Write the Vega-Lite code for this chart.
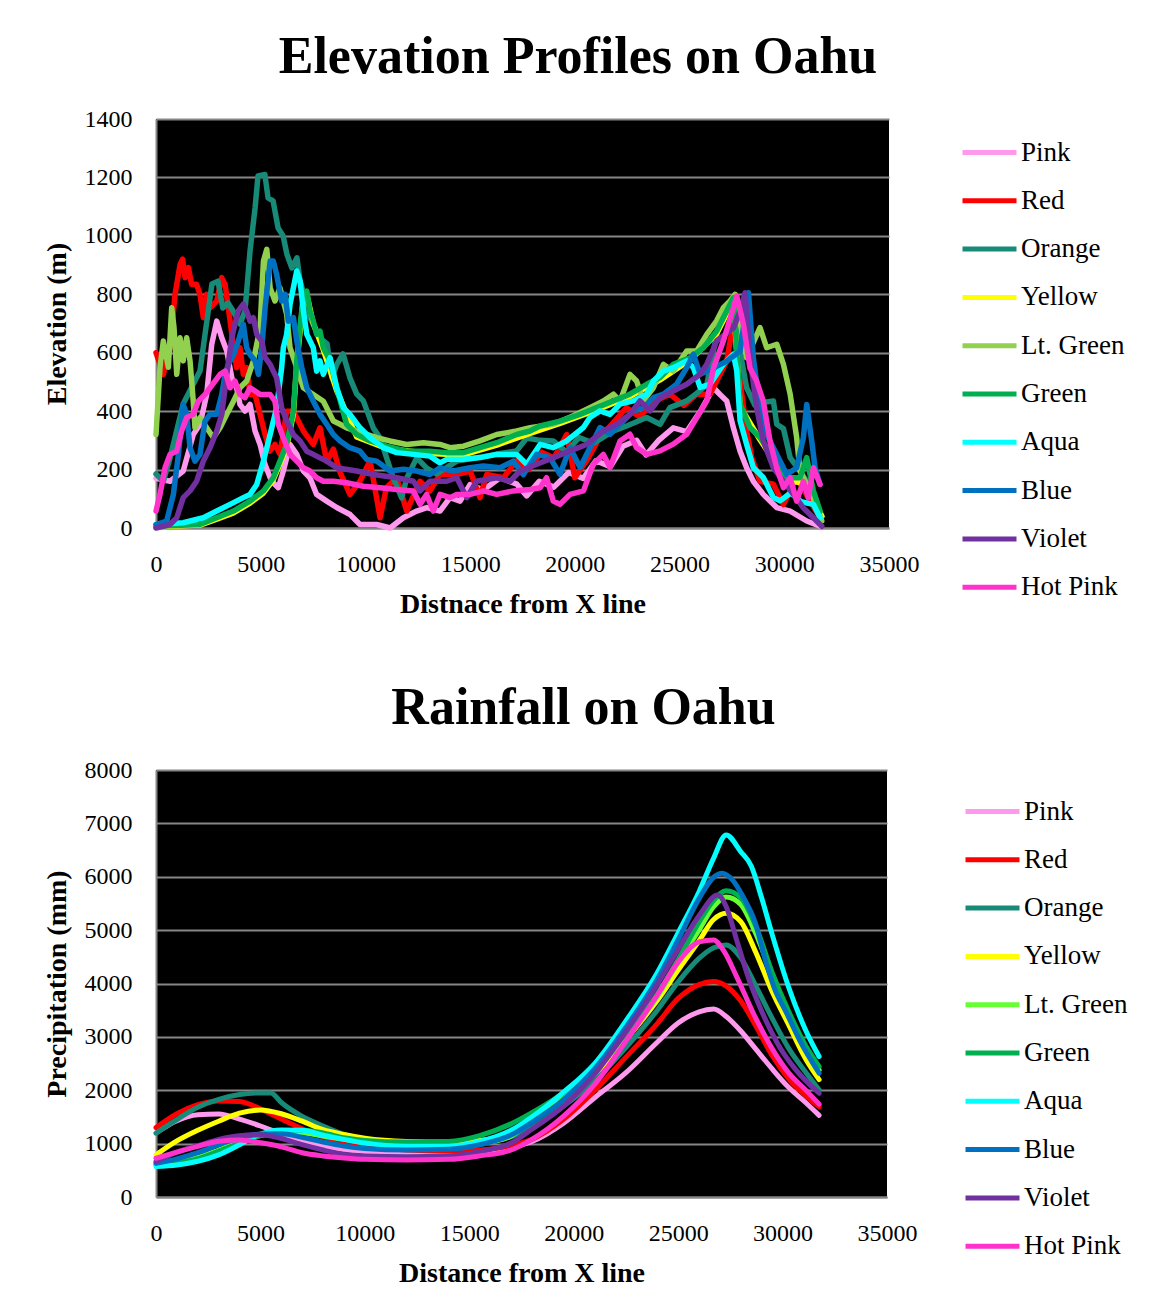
{
"$schema": "https://vega.github.io/schema/vega-lite/v6.json",
"background": "white",
"padding": {"left": 43, "top": 31, "right": 5, "bottom": 5},
"config": {
  "font": "Liberation Serif",
  "view": {"fill": "black", "stroke": null},
  "axis": {"labelFont": "Liberation Serif", "labelFontSize": 24, "labelColor": "black", "labelFlush": false, "titleFont": "Liberation Serif", "titleFontSize": 28, "titleFontWeight": "bold", "titleColor": "black", "domainColor": "#868686", "domainWidth": 2, "gridColor": "#868686", "gridWidth": 2, "gridOpacity": 1, "ticks": false},
  "axisX": {"grid": false},
  "legend": {"labelFont": "Liberation Serif", "labelFontSize": 27, "labelColor": "black", "symbolType": "stroke", "symbolSize": 2916, "symbolStrokeWidth": 5, "rowPadding": 5.3, "labelOffset": 2, "orient": "right"},
  "title": {"font": "Liberation Serif", "fontSize": 52, "fontWeight": "bold", "color": "black", "anchor": "middle", "frame": "bounds"}
},
"spacing": 64,
"resolve": {"scale": {"color": "independent"}, "legend": {"color": "independent"}},
"datasets": {
"elev": [
{"s":"Pink","x":0,"y":170},{"s":"Pink","x":670,"y":160},{"s":"Pink","x":1300,"y":195},{"s":"Pink","x":1780,"y":320},{"s":"Pink","x":2100,"y":355},{"s":"Pink","x":2420,"y":457},{"s":"Pink","x":2660,"y":628},{"s":"Pink","x":2900,"y":708},{"s":"Pink","x":3140,"y":651},{"s":"Pink","x":3380,"y":606},{"s":"Pink","x":3620,"y":514},{"s":"Pink","x":3850,"y":480},{"s":"Pink","x":4010,"y":423},{"s":"Pink","x":4250,"y":400},{"s":"Pink","x":4490,"y":423},{"s":"Pink","x":4730,"y":332},{"s":"Pink","x":4970,"y":286},{"s":"Pink","x":5200,"y":218},{"s":"Pink","x":5520,"y":160},{"s":"Pink","x":5840,"y":138},{"s":"Pink","x":6080,"y":195},{"s":"Pink","x":6400,"y":286},{"s":"Pink","x":6720,"y":252},{"s":"Pink","x":7040,"y":195},{"s":"Pink","x":7350,"y":172},{"s":"Pink","x":7670,"y":115},{"s":"Pink","x":8150,"y":92},{"s":"Pink","x":8630,"y":70},{"s":"Pink","x":9270,"y":46},{"s":"Pink","x":9740,"y":12},{"s":"Pink","x":10540,"y":12},{"s":"Pink","x":11180,"y":0},{"s":"Pink","x":11810,"y":35},{"s":"Pink","x":12450,"y":58},{"s":"Pink","x":12930,"y":70},{"s":"Pink","x":13560,"y":58},{"s":"Pink","x":14040,"y":104},{"s":"Pink","x":14520,"y":92},{"s":"Pink","x":15000,"y":149},{"s":"Pink","x":15630,"y":130},{"s":"Pink","x":16430,"y":172},{"s":"Pink","x":17230,"y":150},{"s":"Pink","x":17700,"y":110},{"s":"Pink","x":18300,"y":160},{"s":"Pink","x":19000,"y":140},{"s":"Pink","x":19700,"y":190},{"s":"Pink","x":20400,"y":170},{"s":"Pink","x":21000,"y":230},{"s":"Pink","x":21700,"y":210},{"s":"Pink","x":22300,"y":280},{"s":"Pink","x":22950,"y":300},{"s":"Pink","x":23400,"y":250},{"s":"Pink","x":24000,"y":300},{"s":"Pink","x":24700,"y":343},{"s":"Pink","x":25340,"y":330},{"s":"Pink","x":26000,"y":400},{"s":"Pink","x":26620,"y":480},{"s":"Pink","x":26930,"y":457},{"s":"Pink","x":27250,"y":435},{"s":"Pink","x":27570,"y":343},{"s":"Pink","x":27890,"y":263},{"s":"Pink","x":28200,"y":206},{"s":"Pink","x":28520,"y":160},{"s":"Pink","x":29000,"y":115},{"s":"Pink","x":29640,"y":70},{"s":"Pink","x":30280,"y":58},{"s":"Pink","x":31070,"y":24},{"s":"Pink","x":31710,"y":6},
{"s":"Red","x":0,"y":600},{"s":"Red","x":350,"y":526},{"s":"Red","x":670,"y":617},{"s":"Red","x":910,"y":800},{"s":"Red","x":1150,"y":902},{"s":"Red","x":1270,"y":920},{"s":"Red","x":1390,"y":857},{"s":"Red","x":1550,"y":891},{"s":"Red","x":1700,"y":834},{"s":"Red","x":1940,"y":834},{"s":"Red","x":2100,"y":800},{"s":"Red","x":2260,"y":720},{"s":"Red","x":2420,"y":800},{"s":"Red","x":2580,"y":754},{"s":"Red","x":2900,"y":777},{"s":"Red","x":3140,"y":857},{"s":"Red","x":3300,"y":834},{"s":"Red","x":3540,"y":708},{"s":"Red","x":3700,"y":617},{"s":"Red","x":3850,"y":549},{"s":"Red","x":4010,"y":617},{"s":"Red","x":4170,"y":526},{"s":"Red","x":4330,"y":549},{"s":"Red","x":4490,"y":457},{"s":"Red","x":4730,"y":457},{"s":"Red","x":4970,"y":389},{"s":"Red","x":5210,"y":320},{"s":"Red","x":5440,"y":263},{"s":"Red","x":5680,"y":286},{"s":"Red","x":5920,"y":252},{"s":"Red","x":6240,"y":400},{"s":"Red","x":6560,"y":400},{"s":"Red","x":7040,"y":332},{"s":"Red","x":7510,"y":286},{"s":"Red","x":7830,"y":343},{"s":"Red","x":8150,"y":229},{"s":"Red","x":8470,"y":270},{"s":"Red","x":8790,"y":190},{"s":"Red","x":9260,"y":115},{"s":"Red","x":9740,"y":160},{"s":"Red","x":10220,"y":230},{"s":"Red","x":10700,"y":35},{"s":"Red","x":11000,"y":138},{"s":"Red","x":11490,"y":172},{"s":"Red","x":11970,"y":58},{"s":"Red","x":12600,"y":160},{"s":"Red","x":13080,"y":127},{"s":"Red","x":13560,"y":183},{"s":"Red","x":14360,"y":183},{"s":"Red","x":15000,"y":195},{"s":"Red","x":15470,"y":104},{"s":"Red","x":15790,"y":183},{"s":"Red","x":16590,"y":172},{"s":"Red","x":17220,"y":230},{"s":"Red","x":17800,"y":200},{"s":"Red","x":18400,"y":260},{"s":"Red","x":19000,"y":240},{"s":"Red","x":19610,"y":320},{"s":"Red","x":20000,"y":172},{"s":"Red","x":20560,"y":230},{"s":"Red","x":21100,"y":300},{"s":"Red","x":21700,"y":350},{"s":"Red","x":22470,"y":412},{"s":"Red","x":23100,"y":380},{"s":"Red","x":23700,"y":430},{"s":"Red","x":24540,"y":458},{"s":"Red","x":25200,"y":420},{"s":"Red","x":25820,"y":458},{"s":"Red","x":26450,"y":458},{"s":"Red","x":27250,"y":572},{"s":"Red","x":27730,"y":766},{"s":"Red","x":27890,"y":503},{"s":"Red","x":28200,"y":332},{"s":"Red","x":28450,"y":240},{"s":"Red","x":28840,"y":160},{"s":"Red","x":29480,"y":150},{"s":"Red","x":29960,"y":80},{"s":"Red","x":30590,"y":172},{"s":"Red","x":31230,"y":92},{"s":"Red","x":31710,"y":35},
{"s":"Orange","x":0,"y":185},{"s":"Orange","x":350,"y":160},{"s":"Orange","x":670,"y":240},{"s":"Orange","x":1300,"y":425},{"s":"Orange","x":2100,"y":537},{"s":"Orange","x":2670,"y":835},{"s":"Orange","x":2960,"y":845},{"s":"Orange","x":3190,"y":753},{"s":"Orange","x":3440,"y":770},{"s":"Orange","x":3680,"y":743},{"s":"Orange","x":4010,"y":698},{"s":"Orange","x":4250,"y":743},{"s":"Orange","x":4490,"y":948},{"s":"Orange","x":4730,"y":1095},{"s":"Orange","x":4870,"y":1205},{"s":"Orange","x":5200,"y":1210},{"s":"Orange","x":5350,"y":1130},{"s":"Orange","x":5590,"y":1120},{"s":"Orange","x":5830,"y":1027},{"s":"Orange","x":6070,"y":1000},{"s":"Orange","x":6250,"y":937},{"s":"Orange","x":6490,"y":890},{"s":"Orange","x":6730,"y":925},{"s":"Orange","x":6880,"y":845},{"s":"Orange","x":7110,"y":788},{"s":"Orange","x":7350,"y":720},{"s":"Orange","x":7830,"y":650},{"s":"Orange","x":8170,"y":630},{"s":"Orange","x":8400,"y":514},{"s":"Orange","x":8640,"y":561},{"s":"Orange","x":8930,"y":596},{"s":"Orange","x":9260,"y":514},{"s":"Orange","x":9580,"y":459},{"s":"Orange","x":9900,"y":435},{"s":"Orange","x":10380,"y":342},{"s":"Orange","x":10700,"y":308},{"s":"Orange","x":11330,"y":171},{"s":"Orange","x":11730,"y":103},{"s":"Orange","x":11970,"y":170},{"s":"Orange","x":12450,"y":240},{"s":"Orange","x":12925,"y":205},{"s":"Orange","x":13400,"y":185},{"s":"Orange","x":14360,"y":229},{"s":"Orange","x":15300,"y":240},{"s":"Orange","x":16270,"y":253},{"s":"Orange","x":17220,"y":264},{"s":"Orange","x":17700,"y":308},{"s":"Orange","x":18340,"y":300},{"s":"Orange","x":18970,"y":298},{"s":"Orange","x":19600,"y":260},{"s":"Orange","x":20200,"y":310},{"s":"Orange","x":20900,"y":290},{"s":"Orange","x":21840,"y":332},{"s":"Orange","x":22500,"y":350},{"s":"Orange","x":23430,"y":378},{"s":"Orange","x":24070,"y":355},{"s":"Orange","x":24540,"y":412},{"s":"Orange","x":25340,"y":435},{"s":"Orange","x":25800,"y":460},{"s":"Orange","x":26300,"y":490},{"s":"Orange","x":26930,"y":720},{"s":"Orange","x":27570,"y":788},{"s":"Orange","x":27900,"y":600},{"s":"Orange","x":28200,"y":480},{"s":"Orange","x":28600,"y":420},{"s":"Orange","x":29000,"y":430},{"s":"Orange","x":29480,"y":435},{"s":"Orange","x":29640,"y":355},{"s":"Orange","x":29960,"y":340},{"s":"Orange","x":30280,"y":241},{"s":"Orange","x":30750,"y":195},{"s":"Orange","x":31070,"y":160},{"s":"Orange","x":31390,"y":100},{"s":"Orange","x":31710,"y":46},
{"s":"Yellow","x":0,"y":4},{"s":"Yellow","x":2100,"y":10},{"s":"Yellow","x":2900,"y":30},{"s":"Yellow","x":3700,"y":52},{"s":"Yellow","x":4490,"y":85},{"s":"Yellow","x":5130,"y":120},{"s":"Yellow","x":5600,"y":165},{"s":"Yellow","x":5920,"y":220},{"s":"Yellow","x":6240,"y":278},{"s":"Yellow","x":6560,"y":390},{"s":"Yellow","x":6720,"y":560},{"s":"Yellow","x":6880,"y":675},{"s":"Yellow","x":7040,"y":790},{"s":"Yellow","x":7200,"y":800},{"s":"Yellow","x":7510,"y":700},{"s":"Yellow","x":7990,"y":610},{"s":"Yellow","x":8630,"y":470},{"s":"Yellow","x":9580,"y":312},{"s":"Yellow","x":11010,"y":272},{"s":"Yellow","x":13080,"y":255},{"s":"Yellow","x":14680,"y":250},{"s":"Yellow","x":16270,"y":284},{"s":"Yellow","x":17860,"y":324},{"s":"Yellow","x":19290,"y":358},{"s":"Yellow","x":21040,"y":404},{"s":"Yellow","x":22630,"y":450},{"s":"Yellow","x":24070,"y":507},{"s":"Yellow","x":25500,"y":575},{"s":"Yellow","x":26770,"y":665},{"s":"Yellow","x":27570,"y":778},{"s":"Yellow","x":27890,"y":416},{"s":"Yellow","x":28840,"y":302},{"s":"Yellow","x":30120,"y":164},{"s":"Yellow","x":31070,"y":150},{"s":"Yellow","x":31800,"y":40},
{"s":"Lt. Green","x":0,"y":320},{"s":"Lt. Green","x":190,"y":550},{"s":"Lt. Green","x":350,"y":640},{"s":"Lt. Green","x":590,"y":550},{"s":"Lt. Green","x":750,"y":754},{"s":"Lt. Green","x":860,"y":686},{"s":"Lt. Green","x":990,"y":526},{"s":"Lt. Green","x":1150,"y":651},{"s":"Lt. Green","x":1300,"y":572},{"s":"Lt. Green","x":1465,"y":651},{"s":"Lt. Green","x":1625,"y":572},{"s":"Lt. Green","x":1780,"y":434},{"s":"Lt. Green","x":1860,"y":343},{"s":"Lt. Green","x":2100,"y":378},{"s":"Lt. Green","x":2420,"y":343},{"s":"Lt. Green","x":2740,"y":309},{"s":"Lt. Green","x":3060,"y":343},{"s":"Lt. Green","x":3380,"y":389},{"s":"Lt. Green","x":3700,"y":434},{"s":"Lt. Green","x":4010,"y":480},{"s":"Lt. Green","x":4330,"y":503},{"s":"Lt. Green","x":4650,"y":572},{"s":"Lt. Green","x":4970,"y":686},{"s":"Lt. Green","x":5130,"y":914},{"s":"Lt. Green","x":5290,"y":954},{"s":"Lt. Green","x":5450,"y":822},{"s":"Lt. Green","x":5680,"y":777},{"s":"Lt. Green","x":5920,"y":822},{"s":"Lt. Green","x":6080,"y":777},{"s":"Lt. Green","x":6240,"y":731},{"s":"Lt. Green","x":6400,"y":617},{"s":"Lt. Green","x":6720,"y":549},{"s":"Lt. Green","x":7040,"y":480},{"s":"Lt. Green","x":7510,"y":457},{"s":"Lt. Green","x":7990,"y":434},{"s":"Lt. Green","x":8470,"y":366},{"s":"Lt. Green","x":8790,"y":355},{"s":"Lt. Green","x":9100,"y":343},{"s":"Lt. Green","x":9580,"y":332},{"s":"Lt. Green","x":10540,"y":309},{"s":"Lt. Green","x":11170,"y":298},{"s":"Lt. Green","x":11970,"y":286},{"s":"Lt. Green","x":12770,"y":292},{"s":"Lt. Green","x":13560,"y":286},{"s":"Lt. Green","x":14040,"y":275},{"s":"Lt. Green","x":14680,"y":280},{"s":"Lt. Green","x":15470,"y":298},{"s":"Lt. Green","x":16270,"y":320},{"s":"Lt. Green","x":17220,"y":332},{"s":"Lt. Green","x":17860,"y":343},{"s":"Lt. Green","x":18970,"y":355},{"s":"Lt. Green","x":19930,"y":384},{"s":"Lt. Green","x":20720,"y":412},{"s":"Lt. Green","x":21360,"y":435},{"s":"Lt. Green","x":21840,"y":458},{"s":"Lt. Green","x":22160,"y":435},{"s":"Lt. Green","x":22630,"y":526},{"s":"Lt. Green","x":22950,"y":503},{"s":"Lt. Green","x":23270,"y":435},{"s":"Lt. Green","x":23750,"y":480},{"s":"Lt. Green","x":24230,"y":560},{"s":"Lt. Green","x":24700,"y":537},{"s":"Lt. Green","x":25340,"y":606},{"s":"Lt. Green","x":25820,"y":606},{"s":"Lt. Green","x":26300,"y":663},{"s":"Lt. Green","x":26770,"y":709},{"s":"Lt. Green","x":27090,"y":754},{"s":"Lt. Green","x":27410,"y":777},{"s":"Lt. Green","x":27650,"y":800},{"s":"Lt. Green","x":27900,"y":700},{"s":"Lt. Green","x":28200,"y":583},{"s":"Lt. Green","x":28840,"y":686},{"s":"Lt. Green","x":29160,"y":617},{"s":"Lt. Green","x":29640,"y":629},{"s":"Lt. Green","x":29960,"y":560},{"s":"Lt. Green","x":30280,"y":458},{"s":"Lt. Green","x":30590,"y":310},{"s":"Lt. Green","x":30750,"y":195},{"s":"Lt. Green","x":31070,"y":150},{"s":"Lt. Green","x":31550,"y":80},{"s":"Lt. Green","x":31790,"y":24},
{"s":"Green","x":0,"y":6},{"s":"Green","x":2100,"y":12},{"s":"Green","x":2900,"y":35},{"s":"Green","x":3700,"y":58},{"s":"Green","x":4490,"y":92},{"s":"Green","x":5130,"y":127},{"s":"Green","x":5600,"y":172},{"s":"Green","x":5920,"y":229},{"s":"Green","x":6240,"y":286},{"s":"Green","x":6560,"y":400},{"s":"Green","x":6720,"y":572},{"s":"Green","x":6880,"y":686},{"s":"Green","x":7040,"y":800},{"s":"Green","x":7200,"y":811},{"s":"Green","x":7350,"y":743},{"s":"Green","x":7510,"y":708},{"s":"Green","x":7670,"y":663},{"s":"Green","x":7830,"y":674},{"s":"Green","x":7990,"y":617},{"s":"Green","x":8310,"y":572},{"s":"Green","x":8630,"y":480},{"s":"Green","x":9100,"y":355},{"s":"Green","x":9580,"y":320},{"s":"Green","x":10220,"y":298},{"s":"Green","x":11010,"y":280},{"s":"Green","x":11970,"y":263},{"s":"Green","x":13080,"y":263},{"s":"Green","x":13880,"y":258},{"s":"Green","x":14680,"y":258},{"s":"Green","x":15470,"y":275},{"s":"Green","x":16270,"y":292},{"s":"Green","x":17220,"y":320},{"s":"Green","x":17860,"y":332},{"s":"Green","x":18340,"y":349},{"s":"Green","x":19290,"y":366},{"s":"Green","x":20250,"y":389},{"s":"Green","x":21040,"y":412},{"s":"Green","x":21840,"y":435},{"s":"Green","x":22630,"y":458},{"s":"Green","x":23430,"y":492},{"s":"Green","x":24070,"y":515},{"s":"Green","x":24700,"y":560},{"s":"Green","x":25500,"y":583},{"s":"Green","x":26140,"y":617},{"s":"Green","x":26770,"y":674},{"s":"Green","x":27250,"y":743},{"s":"Green","x":27570,"y":788},{"s":"Green","x":27890,"y":424},{"s":"Green","x":28360,"y":344},{"s":"Green","x":28840,"y":310},{"s":"Green","x":29480,"y":241},{"s":"Green","x":30120,"y":172},{"s":"Green","x":30750,"y":172},{"s":"Green","x":31070,"y":241},{"s":"Green","x":31390,"y":127},{"s":"Green","x":31710,"y":58},
{"s":"Aqua","x":0,"y":12},{"s":"Aqua","x":1300,"y":18},{"s":"Aqua","x":2260,"y":35},{"s":"Aqua","x":2900,"y":58},{"s":"Aqua","x":3535,"y":81},{"s":"Aqua","x":4170,"y":104},{"s":"Aqua","x":4490,"y":115},{"s":"Aqua","x":4810,"y":149},{"s":"Aqua","x":5130,"y":229},{"s":"Aqua","x":5450,"y":320},{"s":"Aqua","x":5760,"y":412},{"s":"Aqua","x":6000,"y":549},{"s":"Aqua","x":6080,"y":617},{"s":"Aqua","x":6240,"y":663},{"s":"Aqua","x":6400,"y":766},{"s":"Aqua","x":6560,"y":822},{"s":"Aqua","x":6720,"y":880},{"s":"Aqua","x":6880,"y":845},{"s":"Aqua","x":7040,"y":743},{"s":"Aqua","x":7200,"y":663},{"s":"Aqua","x":7510,"y":617},{"s":"Aqua","x":7670,"y":537},{"s":"Aqua","x":7830,"y":572},{"s":"Aqua","x":7990,"y":526},{"s":"Aqua","x":8310,"y":583},{"s":"Aqua","x":8630,"y":480},{"s":"Aqua","x":8950,"y":412},{"s":"Aqua","x":9260,"y":389},{"s":"Aqua","x":9740,"y":343},{"s":"Aqua","x":10220,"y":309},{"s":"Aqua","x":10860,"y":275},{"s":"Aqua","x":11490,"y":258},{"s":"Aqua","x":12290,"y":252},{"s":"Aqua","x":13080,"y":246},{"s":"Aqua","x":13560,"y":223},{"s":"Aqua","x":13880,"y":235},{"s":"Aqua","x":14680,"y":235},{"s":"Aqua","x":15470,"y":241},{"s":"Aqua","x":16270,"y":252},{"s":"Aqua","x":17220,"y":252},{"s":"Aqua","x":17700,"y":218},{"s":"Aqua","x":18340,"y":286},{"s":"Aqua","x":18970,"y":275},{"s":"Aqua","x":19610,"y":298},{"s":"Aqua","x":20410,"y":344},{"s":"Aqua","x":20720,"y":378},{"s":"Aqua","x":21200,"y":401},{"s":"Aqua","x":21680,"y":389},{"s":"Aqua","x":22160,"y":424},{"s":"Aqua","x":22790,"y":435},{"s":"Aqua","x":23430,"y":458},{"s":"Aqua","x":23750,"y":503},{"s":"Aqua","x":24230,"y":537},{"s":"Aqua","x":24700,"y":549},{"s":"Aqua","x":25340,"y":572},{"s":"Aqua","x":25660,"y":549},{"s":"Aqua","x":25980,"y":481},{"s":"Aqua","x":26450,"y":492},{"s":"Aqua","x":27090,"y":561},{"s":"Aqua","x":27570,"y":595},{"s":"Aqua","x":27730,"y":538},{"s":"Aqua","x":27890,"y":367},{"s":"Aqua","x":28200,"y":287},{"s":"Aqua","x":28520,"y":207},{"s":"Aqua","x":29000,"y":173},{"s":"Aqua","x":29480,"y":104},{"s":"Aqua","x":29800,"y":93},{"s":"Aqua","x":30300,"y":120},{"s":"Aqua","x":30800,"y":90},{"s":"Aqua","x":31390,"y":81},{"s":"Aqua","x":31710,"y":35},
{"s":"Blue","x":0,"y":12},{"s":"Blue","x":510,"y":24},{"s":"Blue","x":830,"y":115},{"s":"Blue","x":1070,"y":252},{"s":"Blue","x":1300,"y":423},{"s":"Blue","x":1465,"y":389},{"s":"Blue","x":1625,"y":275},{"s":"Blue","x":1860,"y":229},{"s":"Blue","x":2100,"y":252},{"s":"Blue","x":2340,"y":366},{"s":"Blue","x":2580,"y":389},{"s":"Blue","x":2900,"y":389},{"s":"Blue","x":3140,"y":457},{"s":"Blue","x":3300,"y":526},{"s":"Blue","x":3455,"y":560},{"s":"Blue","x":3700,"y":594},{"s":"Blue","x":3930,"y":640},{"s":"Blue","x":4170,"y":697},{"s":"Blue","x":4330,"y":617},{"s":"Blue","x":4490,"y":594},{"s":"Blue","x":4730,"y":572},{"s":"Blue","x":4890,"y":526},{"s":"Blue","x":5050,"y":617},{"s":"Blue","x":5210,"y":754},{"s":"Blue","x":5450,"y":914},{"s":"Blue","x":5600,"y":914},{"s":"Blue","x":5760,"y":868},{"s":"Blue","x":6000,"y":777},{"s":"Blue","x":6160,"y":800},{"s":"Blue","x":6320,"y":708},{"s":"Blue","x":6560,"y":720},{"s":"Blue","x":6720,"y":640},{"s":"Blue","x":6960,"y":549},{"s":"Blue","x":7200,"y":480},{"s":"Blue","x":7510,"y":434},{"s":"Blue","x":7830,"y":389},{"s":"Blue","x":8150,"y":355},{"s":"Blue","x":8470,"y":320},{"s":"Blue","x":8790,"y":298},{"s":"Blue","x":9260,"y":275},{"s":"Blue","x":9740,"y":263},{"s":"Blue","x":10060,"y":235},{"s":"Blue","x":10540,"y":229},{"s":"Blue","x":11170,"y":195},{"s":"Blue","x":11810,"y":201},{"s":"Blue","x":12450,"y":195},{"s":"Blue","x":13080,"y":183},{"s":"Blue","x":13560,"y":206},{"s":"Blue","x":14200,"y":195},{"s":"Blue","x":15000,"y":206},{"s":"Blue","x":15630,"y":212},{"s":"Blue","x":16430,"y":206},{"s":"Blue","x":17060,"y":229},{"s":"Blue","x":17540,"y":183},{"s":"Blue","x":18180,"y":252},{"s":"Blue","x":18810,"y":241},{"s":"Blue","x":19290,"y":184},{"s":"Blue","x":19770,"y":275},{"s":"Blue","x":20250,"y":207},{"s":"Blue","x":20720,"y":275},{"s":"Blue","x":21200,"y":344},{"s":"Blue","x":21680,"y":321},{"s":"Blue","x":22160,"y":355},{"s":"Blue","x":22790,"y":401},{"s":"Blue","x":23270,"y":412},{"s":"Blue","x":23750,"y":446},{"s":"Blue","x":24230,"y":458},{"s":"Blue","x":24860,"y":492},{"s":"Blue","x":25340,"y":549},{"s":"Blue","x":25660,"y":595},{"s":"Blue","x":25980,"y":526},{"s":"Blue","x":26620,"y":548},{"s":"Blue","x":27250,"y":571},{"s":"Blue","x":27890,"y":606},{"s":"Blue","x":28290,"y":805},{"s":"Blue","x":28520,"y":583},{"s":"Blue","x":28840,"y":412},{"s":"Blue","x":29160,"y":320},{"s":"Blue","x":29640,"y":252},{"s":"Blue","x":30120,"y":183},{"s":"Blue","x":30590,"y":206},{"s":"Blue","x":30910,"y":309},{"s":"Blue","x":31070,"y":423},{"s":"Blue","x":31310,"y":298},{"s":"Blue","x":31470,"y":206},{"s":"Blue","x":31700,"y":150},
{"s":"Violet","x":0,"y":0},{"s":"Violet","x":670,"y":12},{"s":"Violet","x":990,"y":35},{"s":"Violet","x":1300,"y":104},{"s":"Violet","x":1625,"y":127},{"s":"Violet","x":1940,"y":160},{"s":"Violet","x":2260,"y":229},{"s":"Violet","x":2580,"y":275},{"s":"Violet","x":2900,"y":332},{"s":"Violet","x":3140,"y":389},{"s":"Violet","x":3380,"y":526},{"s":"Violet","x":3620,"y":651},{"s":"Violet","x":3770,"y":697},{"s":"Violet","x":3930,"y":743},{"s":"Violet","x":4170,"y":766},{"s":"Violet","x":4330,"y":743},{"s":"Violet","x":4490,"y":708},{"s":"Violet","x":4650,"y":720},{"s":"Violet","x":4810,"y":663},{"s":"Violet","x":5050,"y":640},{"s":"Violet","x":5210,"y":583},{"s":"Violet","x":5450,"y":560},{"s":"Violet","x":5600,"y":537},{"s":"Violet","x":5760,"y":514},{"s":"Violet","x":6000,"y":412},{"s":"Violet","x":6240,"y":366},{"s":"Violet","x":6560,"y":320},{"s":"Violet","x":6880,"y":298},{"s":"Violet","x":7200,"y":263},{"s":"Violet","x":7510,"y":252},{"s":"Violet","x":7830,"y":240},{"s":"Violet","x":8150,"y":229},{"s":"Violet","x":8630,"y":206},{"s":"Violet","x":9580,"y":195},{"s":"Violet","x":10380,"y":183},{"s":"Violet","x":11490,"y":172},{"s":"Violet","x":12290,"y":160},{"s":"Violet","x":12610,"y":127},{"s":"Violet","x":13080,"y":160},{"s":"Violet","x":13880,"y":160},{"s":"Violet","x":14360,"y":172},{"s":"Violet","x":14840,"y":104},{"s":"Violet","x":15310,"y":160},{"s":"Violet","x":16270,"y":172},{"s":"Violet","x":16910,"y":160},{"s":"Violet","x":17380,"y":195},{"s":"Violet","x":18180,"y":218},{"s":"Violet","x":18970,"y":241},{"s":"Violet","x":19770,"y":264},{"s":"Violet","x":20560,"y":286},{"s":"Violet","x":21360,"y":332},{"s":"Violet","x":22000,"y":355},{"s":"Violet","x":22630,"y":389},{"s":"Violet","x":23110,"y":435},{"s":"Violet","x":23590,"y":401},{"s":"Violet","x":24070,"y":446},{"s":"Violet","x":24700,"y":469},{"s":"Violet","x":25340,"y":492},{"s":"Violet","x":25980,"y":526},{"s":"Violet","x":26300,"y":560},{"s":"Violet","x":26770,"y":640},{"s":"Violet","x":27570,"y":685},{"s":"Violet","x":27890,"y":742},{"s":"Violet","x":28130,"y":805},{"s":"Violet","x":28360,"y":583},{"s":"Violet","x":28680,"y":412},{"s":"Violet","x":29000,"y":297},{"s":"Violet","x":29480,"y":206},{"s":"Violet","x":29960,"y":160},{"s":"Violet","x":30440,"y":115},{"s":"Violet","x":30910,"y":69},{"s":"Violet","x":31390,"y":35},{"s":"Violet","x":31790,"y":6},
{"s":"Hot Pink","x":0,"y":58},{"s":"Hot Pink","x":190,"y":115},{"s":"Hot Pink","x":430,"y":206},{"s":"Hot Pink","x":670,"y":252},{"s":"Hot Pink","x":990,"y":263},{"s":"Hot Pink","x":1225,"y":332},{"s":"Hot Pink","x":1465,"y":378},{"s":"Hot Pink","x":1780,"y":389},{"s":"Hot Pink","x":2020,"y":434},{"s":"Hot Pink","x":2340,"y":457},{"s":"Hot Pink","x":2580,"y":480},{"s":"Hot Pink","x":2820,"y":503},{"s":"Hot Pink","x":3060,"y":526},{"s":"Hot Pink","x":3300,"y":537},{"s":"Hot Pink","x":3535,"y":480},{"s":"Hot Pink","x":3770,"y":503},{"s":"Hot Pink","x":4010,"y":457},{"s":"Hot Pink","x":4250,"y":446},{"s":"Hot Pink","x":4490,"y":480},{"s":"Hot Pink","x":4730,"y":469},{"s":"Hot Pink","x":4970,"y":457},{"s":"Hot Pink","x":5450,"y":457},{"s":"Hot Pink","x":5680,"y":434},{"s":"Hot Pink","x":5840,"y":355},{"s":"Hot Pink","x":6080,"y":309},{"s":"Hot Pink","x":6400,"y":252},{"s":"Hot Pink","x":6720,"y":229},{"s":"Hot Pink","x":7040,"y":206},{"s":"Hot Pink","x":7350,"y":195},{"s":"Hot Pink","x":7670,"y":172},{"s":"Hot Pink","x":7990,"y":160},{"s":"Hot Pink","x":8470,"y":160},{"s":"Hot Pink","x":9100,"y":155},{"s":"Hot Pink","x":9900,"y":143},{"s":"Hot Pink","x":10700,"y":138},{"s":"Hot Pink","x":11490,"y":132},{"s":"Hot Pink","x":12290,"y":127},{"s":"Hot Pink","x":12610,"y":81},{"s":"Hot Pink","x":12920,"y":115},{"s":"Hot Pink","x":13240,"y":58},{"s":"Hot Pink","x":13560,"y":115},{"s":"Hot Pink","x":14040,"y":104},{"s":"Hot Pink","x":14360,"y":115},{"s":"Hot Pink","x":15000,"y":115},{"s":"Hot Pink","x":15630,"y":127},{"s":"Hot Pink","x":16270,"y":115},{"s":"Hot Pink","x":17060,"y":127},{"s":"Hot Pink","x":17860,"y":132},{"s":"Hot Pink","x":18340,"y":138},{"s":"Hot Pink","x":18650,"y":172},{"s":"Hot Pink","x":18970,"y":92},{"s":"Hot Pink","x":19290,"y":81},{"s":"Hot Pink","x":19770,"y":115},{"s":"Hot Pink","x":20410,"y":127},{"s":"Hot Pink","x":20880,"y":218},{"s":"Hot Pink","x":21360,"y":252},{"s":"Hot Pink","x":21680,"y":207},{"s":"Hot Pink","x":22160,"y":298},{"s":"Hot Pink","x":22630,"y":321},{"s":"Hot Pink","x":22950,"y":275},{"s":"Hot Pink","x":23430,"y":252},{"s":"Hot Pink","x":24070,"y":264},{"s":"Hot Pink","x":24700,"y":287},{"s":"Hot Pink","x":25340,"y":321},{"s":"Hot Pink","x":25820,"y":378},{"s":"Hot Pink","x":26300,"y":435},{"s":"Hot Pink","x":26620,"y":548},{"s":"Hot Pink","x":27090,"y":640},{"s":"Hot Pink","x":27570,"y":754},{"s":"Hot Pink","x":27730,"y":794},{"s":"Hot Pink","x":28050,"y":697},{"s":"Hot Pink","x":28360,"y":548},{"s":"Hot Pink","x":28680,"y":503},{"s":"Hot Pink","x":29000,"y":434},{"s":"Hot Pink","x":29320,"y":297},{"s":"Hot Pink","x":29640,"y":206},{"s":"Hot Pink","x":29960,"y":138},{"s":"Hot Pink","x":30280,"y":172},{"s":"Hot Pink","x":30590,"y":92},{"s":"Hot Pink","x":30910,"y":160},{"s":"Hot Pink","x":31150,"y":104},{"s":"Hot Pink","x":31390,"y":206},{"s":"Hot Pink","x":31710,"y":149}
],
"rain": [
{"s":"Pink","x":0,"y":1200},{"s":"Pink","x":1000,"y":1430},{"s":"Pink","x":2000,"y":1540},{"s":"Pink","x":3000,"y":1555},{"s":"Pink","x":4000,"y":1460},{"s":"Pink","x":5000,"y":1330},{"s":"Pink","x":6000,"y":1180},{"s":"Pink","x":7000,"y":1040},{"s":"Pink","x":8000,"y":960},{"s":"Pink","x":9000,"y":890},{"s":"Pink","x":10000,"y":850},{"s":"Pink","x":12000,"y":800},{"s":"Pink","x":14000,"y":790},{"s":"Pink","x":15500,"y":820},{"s":"Pink","x":17000,"y":920},{"s":"Pink","x":18000,"y":1040},{"s":"Pink","x":19500,"y":1380},{"s":"Pink","x":21000,"y":1860},{"s":"Pink","x":22500,"y":2330},{"s":"Pink","x":24000,"y":2900},{"s":"Pink","x":25000,"y":3260},{"s":"Pink","x":26000,"y":3470},{"s":"Pink","x":26700,"y":3520},{"s":"Pink","x":27300,"y":3380},{"s":"Pink","x":28000,"y":3110},{"s":"Pink","x":28700,"y":2780},{"s":"Pink","x":29500,"y":2400},{"s":"Pink","x":30300,"y":2050},{"s":"Pink","x":31100,"y":1770},{"s":"Pink","x":31750,"y":1530},
{"s":"Red","x":0,"y":1300},{"s":"Red","x":1000,"y":1560},{"s":"Red","x":2000,"y":1730},{"s":"Red","x":3000,"y":1800},{"s":"Red","x":4000,"y":1790},{"s":"Red","x":5000,"y":1650},{"s":"Red","x":6000,"y":1460},{"s":"Red","x":7000,"y":1280},{"s":"Red","x":8000,"y":1130},{"s":"Red","x":9000,"y":1010},{"s":"Red","x":10000,"y":950},{"s":"Red","x":12000,"y":880},{"s":"Red","x":14000,"y":860},{"s":"Red","x":15500,"y":880},{"s":"Red","x":17000,"y":960},{"s":"Red","x":18000,"y":1080},{"s":"Red","x":19500,"y":1450},{"s":"Red","x":21000,"y":1990},{"s":"Red","x":22500,"y":2620},{"s":"Red","x":24000,"y":3250},{"s":"Red","x":25000,"y":3720},{"s":"Red","x":26000,"y":3980},{"s":"Red","x":26700,"y":4036},{"s":"Red","x":27300,"y":3950},{"s":"Red","x":28000,"y":3670},{"s":"Red","x":28700,"y":3220},{"s":"Red","x":29500,"y":2650},{"s":"Red","x":30300,"y":2210},{"s":"Red","x":31100,"y":1900},{"s":"Red","x":31750,"y":1690},
{"s":"Orange","x":0,"y":1195},{"s":"Orange","x":1000,"y":1450},{"s":"Orange","x":2000,"y":1680},{"s":"Orange","x":3000,"y":1830},{"s":"Orange","x":4000,"y":1920},{"s":"Orange","x":5000,"y":1950},{"s":"Orange","x":5500,"y":1950},{"s":"Orange","x":6000,"y":1770},{"s":"Orange","x":7000,"y":1510},{"s":"Orange","x":8000,"y":1330},{"s":"Orange","x":9000,"y":1170},{"s":"Orange","x":10000,"y":1080},{"s":"Orange","x":12000,"y":1000},{"s":"Orange","x":14000,"y":990},{"s":"Orange","x":15500,"y":1020},{"s":"Orange","x":17000,"y":1130},{"s":"Orange","x":18000,"y":1300},{"s":"Orange","x":19500,"y":1700},{"s":"Orange","x":21000,"y":2170},{"s":"Orange","x":22500,"y":2800},{"s":"Orange","x":24000,"y":3500},{"s":"Orange","x":25000,"y":4030},{"s":"Orange","x":26000,"y":4470},{"s":"Orange","x":26700,"y":4670},{"s":"Orange","x":27300,"y":4723},{"s":"Orange","x":28000,"y":4480},{"s":"Orange","x":28700,"y":3970},{"s":"Orange","x":29500,"y":3350},{"s":"Orange","x":30300,"y":2780},{"s":"Orange","x":31100,"y":2340},{"s":"Orange","x":31750,"y":2007},
{"s":"Yellow","x":0,"y":790},{"s":"Yellow","x":1000,"y":1050},{"s":"Yellow","x":2000,"y":1250},{"s":"Yellow","x":3000,"y":1420},{"s":"Yellow","x":4000,"y":1570},{"s":"Yellow","x":5000,"y":1630},{"s":"Yellow","x":6000,"y":1560},{"s":"Yellow","x":7000,"y":1420},{"s":"Yellow","x":8000,"y":1260},{"s":"Yellow","x":9000,"y":1170},{"s":"Yellow","x":10000,"y":1100},{"s":"Yellow","x":12000,"y":1040},{"s":"Yellow","x":14000,"y":1030},{"s":"Yellow","x":15500,"y":1060},{"s":"Yellow","x":17000,"y":1180},{"s":"Yellow","x":18000,"y":1420},{"s":"Yellow","x":19500,"y":1820},{"s":"Yellow","x":21000,"y":2300},{"s":"Yellow","x":22500,"y":2950},{"s":"Yellow","x":24000,"y":3680},{"s":"Yellow","x":25000,"y":4250},{"s":"Yellow","x":26000,"y":4800},{"s":"Yellow","x":26700,"y":5200},{"s":"Yellow","x":27300,"y":5317},{"s":"Yellow","x":28000,"y":5160},{"s":"Yellow","x":28700,"y":4600},{"s":"Yellow","x":29500,"y":3850},{"s":"Yellow","x":30300,"y":3220},{"s":"Yellow","x":31100,"y":2590},{"s":"Yellow","x":31750,"y":2200},
{"s":"Lt. Green","x":0,"y":620},{"s":"Lt. Green","x":1000,"y":660},{"s":"Lt. Green","x":2000,"y":740},{"s":"Lt. Green","x":3000,"y":880},{"s":"Lt. Green","x":4000,"y":1030},{"s":"Lt. Green","x":5000,"y":1150},{"s":"Lt. Green","x":6000,"y":1200},{"s":"Lt. Green","x":7000,"y":1200},{"s":"Lt. Green","x":8000,"y":1140},{"s":"Lt. Green","x":9000,"y":1080},{"s":"Lt. Green","x":10000,"y":1020},{"s":"Lt. Green","x":12000,"y":970},{"s":"Lt. Green","x":14000,"y":960},{"s":"Lt. Green","x":15500,"y":1000},{"s":"Lt. Green","x":17000,"y":1140},{"s":"Lt. Green","x":18000,"y":1470},{"s":"Lt. Green","x":19500,"y":1880},{"s":"Lt. Green","x":21000,"y":2380},{"s":"Lt. Green","x":22500,"y":3000},{"s":"Lt. Green","x":24000,"y":3750},{"s":"Lt. Green","x":25000,"y":4400},{"s":"Lt. Green","x":26000,"y":5000},{"s":"Lt. Green","x":26700,"y":5440},{"s":"Lt. Green","x":27300,"y":5620},{"s":"Lt. Green","x":28000,"y":5480},{"s":"Lt. Green","x":28700,"y":4950},{"s":"Lt. Green","x":29500,"y":4150},{"s":"Lt. Green","x":30300,"y":3400},{"s":"Lt. Green","x":31100,"y":2780},{"s":"Lt. Green","x":31750,"y":2380},
{"s":"Green","x":0,"y":600},{"s":"Green","x":1000,"y":640},{"s":"Green","x":2000,"y":720},{"s":"Green","x":3000,"y":860},{"s":"Green","x":4000,"y":1010},{"s":"Green","x":5000,"y":1150},{"s":"Green","x":6000,"y":1230},{"s":"Green","x":7000,"y":1250},{"s":"Green","x":8000,"y":1200},{"s":"Green","x":9000,"y":1110},{"s":"Green","x":10000,"y":1060},{"s":"Green","x":12000,"y":1030},{"s":"Green","x":14000,"y":1040},{"s":"Green","x":15500,"y":1150},{"s":"Green","x":17000,"y":1370},{"s":"Green","x":18000,"y":1580},{"s":"Green","x":19500,"y":1950},{"s":"Green","x":21000,"y":2420},{"s":"Green","x":22500,"y":3060},{"s":"Green","x":24000,"y":3800},{"s":"Green","x":25000,"y":4450},{"s":"Green","x":26000,"y":5150},{"s":"Green","x":26700,"y":5560},{"s":"Green","x":27300,"y":5740},{"s":"Green","x":28000,"y":5610},{"s":"Green","x":28700,"y":5090},{"s":"Green","x":29500,"y":4210},{"s":"Green","x":30300,"y":3470},{"s":"Green","x":31100,"y":2840},{"s":"Green","x":31750,"y":2444},
{"s":"Aqua","x":0,"y":570},{"s":"Aqua","x":1000,"y":600},{"s":"Aqua","x":2000,"y":670},{"s":"Aqua","x":3000,"y":790},{"s":"Aqua","x":4000,"y":980},{"s":"Aqua","x":5000,"y":1180},{"s":"Aqua","x":6000,"y":1257},{"s":"Aqua","x":7000,"y":1250},{"s":"Aqua","x":8000,"y":1160},{"s":"Aqua","x":9000,"y":1080},{"s":"Aqua","x":10000,"y":1010},{"s":"Aqua","x":12000,"y":950},{"s":"Aqua","x":14000,"y":950},{"s":"Aqua","x":15500,"y":1040},{"s":"Aqua","x":17000,"y":1250},{"s":"Aqua","x":18000,"y":1500},{"s":"Aqua","x":19500,"y":1960},{"s":"Aqua","x":21000,"y":2500},{"s":"Aqua","x":22500,"y":3300},{"s":"Aqua","x":24000,"y":4200},{"s":"Aqua","x":25000,"y":4950},{"s":"Aqua","x":26000,"y":5720},{"s":"Aqua","x":26700,"y":6350},{"s":"Aqua","x":27300,"y":6784},{"s":"Aqua","x":28000,"y":6470},{"s":"Aqua","x":28500,"y":6200},{"s":"Aqua","x":29000,"y":5600},{"s":"Aqua","x":29500,"y":4920},{"s":"Aqua","x":30300,"y":3920},{"s":"Aqua","x":31100,"y":3130},{"s":"Aqua","x":31750,"y":2631},
{"s":"Blue","x":0,"y":630},{"s":"Blue","x":1000,"y":715},{"s":"Blue","x":2000,"y":830},{"s":"Blue","x":3000,"y":980},{"s":"Blue","x":4000,"y":1110},{"s":"Blue","x":5000,"y":1180},{"s":"Blue","x":6000,"y":1185},{"s":"Blue","x":7000,"y":1120},{"s":"Blue","x":8000,"y":1030},{"s":"Blue","x":9000,"y":955},{"s":"Blue","x":10000,"y":910},{"s":"Blue","x":12000,"y":880},{"s":"Blue","x":14000,"y":895},{"s":"Blue","x":15500,"y":980},{"s":"Blue","x":17000,"y":1160},{"s":"Blue","x":18000,"y":1400},{"s":"Blue","x":19500,"y":1820},{"s":"Blue","x":21000,"y":2400},{"s":"Blue","x":22500,"y":3180},{"s":"Blue","x":24000,"y":4080},{"s":"Blue","x":25000,"y":4820},{"s":"Blue","x":26000,"y":5590},{"s":"Blue","x":26700,"y":5990},{"s":"Blue","x":27100,"y":6066},{"s":"Blue","x":27600,"y":5940},{"s":"Blue","x":28100,"y":5630},{"s":"Blue","x":28700,"y":5130},{"s":"Blue","x":29200,"y":4400},{"s":"Blue","x":29600,"y":3920},{"s":"Blue","x":30200,"y":3440},{"s":"Blue","x":30800,"y":2950},{"s":"Blue","x":31750,"y":2320},
{"s":"Violet","x":0,"y":660},{"s":"Violet","x":1000,"y":840},{"s":"Violet","x":2000,"y":960},{"s":"Violet","x":3000,"y":1080},{"s":"Violet","x":4000,"y":1150},{"s":"Violet","x":5000,"y":1165},{"s":"Violet","x":6000,"y":1095},{"s":"Violet","x":7000,"y":980},{"s":"Violet","x":8000,"y":880},{"s":"Violet","x":9000,"y":800},{"s":"Violet","x":10000,"y":770},{"s":"Violet","x":12000,"y":755},{"s":"Violet","x":14000,"y":770},{"s":"Violet","x":15500,"y":850},{"s":"Violet","x":17000,"y":1010},{"s":"Violet","x":18000,"y":1270},{"s":"Violet","x":19500,"y":1700},{"s":"Violet","x":21000,"y":2300},{"s":"Violet","x":22500,"y":3100},{"s":"Violet","x":24000,"y":3980},{"s":"Violet","x":25000,"y":4640},{"s":"Violet","x":26000,"y":5270},{"s":"Violet","x":26900,"y":5660},{"s":"Violet","x":27300,"y":5440},{"s":"Violet","x":27800,"y":4817},{"s":"Violet","x":28400,"y":4067},{"s":"Violet","x":29000,"y":3480},{"s":"Violet","x":29800,"y":2850},{"s":"Violet","x":30600,"y":2400},{"s":"Violet","x":31750,"y":1944},
{"s":"Hot Pink","x":0,"y":726},{"s":"Hot Pink","x":1000,"y":840},{"s":"Hot Pink","x":2000,"y":950},{"s":"Hot Pink","x":3000,"y":1045},{"s":"Hot Pink","x":4000,"y":1070},{"s":"Hot Pink","x":5000,"y":1015},{"s":"Hot Pink","x":6000,"y":940},{"s":"Hot Pink","x":7000,"y":830},{"s":"Hot Pink","x":8000,"y":770},{"s":"Hot Pink","x":9000,"y":730},{"s":"Hot Pink","x":10000,"y":705},{"s":"Hot Pink","x":12000,"y":695},{"s":"Hot Pink","x":14000,"y":705},{"s":"Hot Pink","x":15500,"y":770},{"s":"Hot Pink","x":17000,"y":880},{"s":"Hot Pink","x":18000,"y":1080},{"s":"Hot Pink","x":19500,"y":1510},{"s":"Hot Pink","x":21000,"y":2110},{"s":"Hot Pink","x":22500,"y":2920},{"s":"Hot Pink","x":24000,"y":3780},{"s":"Hot Pink","x":25000,"y":4400},{"s":"Hot Pink","x":26000,"y":4780},{"s":"Hot Pink","x":26700,"y":4817},{"s":"Hot Pink","x":27200,"y":4600},{"s":"Hot Pink","x":27800,"y":4130},{"s":"Hot Pink","x":28600,"y":3443},{"s":"Hot Pink","x":29500,"y":2780},{"s":"Hot Pink","x":30300,"y":2320},{"s":"Hot Pink","x":31100,"y":2007},{"s":"Hot Pink","x":31750,"y":1740}
]
},
"vconcat": [
{
  "width": 733, "height": 409,
  "title": {"text": "Elevation Profiles on Oahu", "offset": 23, "dx": -8},
  "data": {"name": "elev"},
  "mark": {"type": "line", "strokeWidth": 5.5, "strokeJoin": "round", "strokeCap": "round"},
  "encoding": {
    "x": {"field": "x", "type": "quantitative", "scale": {"domain": [0, 35000], "nice": false}, "axis": {"values": [0,5000,10000,15000,20000,25000,30000,35000], "format": "d", "title": "Distnace from X line", "labelPadding": 24, "titlePadding": 14}},
    "y": {"field": "y", "type": "quantitative", "scale": {"domain": [0, 1400], "nice": false}, "axis": {"values": [0,200,400,600,800,1000,1200,1400], "format": "d", "title": "Elevation (m)", "labelPadding": 24, "titlePadding": 13}},
    "color": {"field": "s", "type": "nominal", "scale": {"domain": ["Pink","Red","Orange","Yellow","Lt. Green","Green","Aqua","Blue","Violet","Hot Pink"], "range": ["#FF99EE","#FF0000","#178A78","#FFFF00","#92D050","#00B050","#00FFFF","#0070C0","#7030A0","#FF33CC"]}, "legend": {"title": null, "padding": 4, "offset": 67}}
  }
},
{
  "width": 731, "height": 427,
  "title": {"text": "Rainfall on Oahu", "offset": 23, "dx": -8},
  "data": {"name": "rain"},
  "mark": {"type": "line", "strokeWidth": 5, "strokeJoin": "round", "strokeCap": "round", "interpolate": "monotone"},
  "encoding": {
    "x": {"field": "x", "type": "quantitative", "scale": {"domain": [0, 35000], "nice": false}, "axis": {"values": [0,5000,10000,15000,20000,25000,30000,35000], "format": "d", "title": "Distance from X line", "labelPadding": 24, "titlePadding": 14}},
    "y": {"field": "y", "type": "quantitative", "scale": {"domain": [0, 8000], "nice": false}, "axis": {"values": [0,1000,2000,3000,4000,5000,6000,7000,8000], "format": "d", "title": "Precipitation (mm)", "labelPadding": 24, "titlePadding": 13}},
    "color": {"field": "s", "type": "nominal", "scale": {"domain": ["Pink","Red","Orange","Yellow","Lt. Green","Green","Aqua","Blue","Violet","Hot Pink"], "range": ["#FF99EE","#FF0000","#178A78","#FFFF00","#66FF33","#00B050","#00FFFF","#0070C0","#7030A0","#FF33CC"]}, "legend": {"title": null, "padding": 12, "offset": 64}}
  }
}
]
}
